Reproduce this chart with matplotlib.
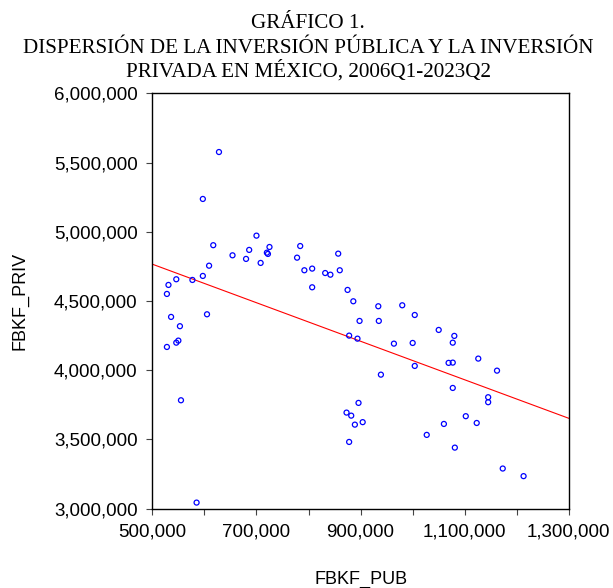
import numpy as np
import matplotlib
matplotlib.use("Agg")
import matplotlib.pyplot as plt
from matplotlib.ticker import FuncFormatter, MultipleLocator

# -------------------------------
# Data (thousands of pesos)
# -------------------------------
fbkf_pub = [
    628, 597, 700, 617, 686, 725, 720, 722, 654, 680,
    708, 609, 784, 778, 792, 807, 807, 832, 842, 857,
    860, 875, 886, 597, 577, 546, 531, 528, 536, 605,
    553, 546, 550, 528, 555, 585, 878, 894, 896, 873,
    882, 889, 878, 934, 980, 1004, 898, 935, 964, 1000,
    1050, 1080, 1077, 1126, 1069, 1077, 1004, 1162, 939, 1077,
    1145, 1145, 904, 1102, 1060, 1123, 1027, 1081, 1173, 1213,
]
fbkf_priv = [
    5576, 5237, 4972, 4903, 4869, 4890, 4849, 4840, 4830, 4804,
    4775, 4755, 4897, 4813, 4722, 4734, 4599, 4702, 4690, 4842,
    4722, 4580, 4498, 4681, 4652, 4657, 4616, 4551, 4385, 4404,
    4318, 4199, 4214, 4168, 3783, 3044, 4250, 4228, 3764, 3694,
    3672, 3607, 3482, 4462, 4469, 4399, 4356, 4356, 4192, 4197,
    4291, 4248, 4199, 4084, 4053, 4055, 4031, 3997, 3968, 3872,
    3805, 3769, 3625, 3668, 3612, 3619, 3533, 3441, 3290, 3235,
]

title_lines = [
    "GRÁFICO 1.",
    "DISPERSIÓN DE LA INVERSIÓN PÚBLICA Y LA INVERSIÓN",
    "PRIVADA EN MÉXICO, 2006Q1-2023Q2",
]

SANS = ["Liberation Sans", "DejaVu Sans"]
SERIF = ["Liberation Serif", "DejaVu Serif"]

x = np.array(fbkf_pub) * 1000.0
y = np.array(fbkf_priv) * 1000.0

W, H = 613, 588
fig = plt.figure(figsize=(W / 100, H / 100), dpi=100)
ax = fig.add_axes([0.2485, 0.1349, 0.6795, 0.7064])

ax.scatter(x, y, s=13, facecolors="none", edgecolors="#0000ff", linewidths=0.9, zorder=3)

# least squares line
slope, intercept = np.polyfit(x, y, 1)
xs = np.array([500000, 1300000])
ax.plot(xs, slope * xs + intercept, color="#ff0000", linewidth=0.8, zorder=2)

ax.set_xlim(500000, 1300000)
ax.set_ylim(3000000, 6000000)

ax.xaxis.set_major_locator(MultipleLocator(100000))
ax.yaxis.set_major_locator(MultipleLocator(500000))

def fmt_x(v, pos):
    k = int(round(v))
    if (k // 100000) % 2 == 1:
        return f"{k:,}"
    return ""

ax.xaxis.set_major_formatter(FuncFormatter(fmt_x))
ax.yaxis.set_major_formatter(FuncFormatter(lambda v, p: f"{int(round(v)):,}"))

for s in ax.spines.values():
    s.set_linewidth(1.0)
    s.set_color("black")

ax.tick_params(direction="out", length=4.5, width=0.8, color="#444444", labelsize=13.5)
ax.tick_params(axis="x", pad=6.5)
ax.tick_params(axis="y", pad=6)
for lab in ax.get_xticklabels() + ax.get_yticklabels():
    lab.set_family(SANS)

ax.set_xlabel("FBKF_PUB", fontsize=13, family=SANS, va="center")
ax.set_ylabel("FBKF_PRIV", fontsize=13, family=SANS, va="center")
ax.xaxis.set_label_coords(0.5, (508.7 - 579) / 415.4)
ax.yaxis.set_label_coords((20 - 152.3) / 416.7, 0.5)

baselines = [28, 53, 77]
for line, b in zip(title_lines, baselines):
    fig.text(0.503, 1 - b / H, line, ha="center", va="baseline",
             fontsize=15.2, family=SERIF)

fig.savefig("out.png", dpi=100)
